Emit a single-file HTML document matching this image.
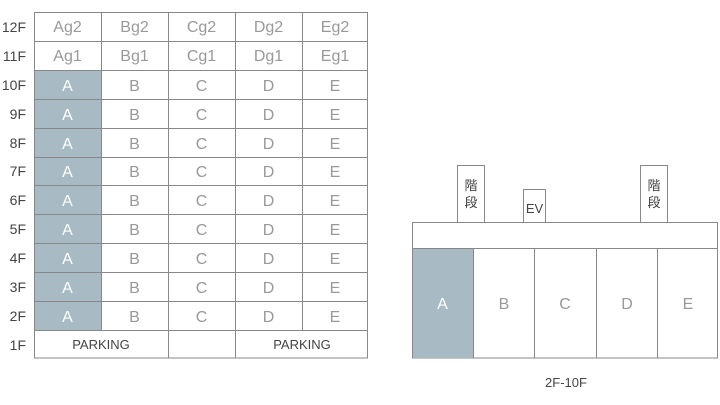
<!DOCTYPE html>
<html><head><meta charset="utf-8"><style>
body{margin:0;background:#fff;width:720px;height:400px;overflow:hidden}
svg text{font-family:"Liberation Sans","Noto Sans CJK JP",sans-serif}
</style></head><body>
<svg width="720" height="400" xmlns="http://www.w3.org/2000/svg">
<rect x="34" y="70" width="67" height="260" fill="#a8bac3"/>
<g stroke="#888" stroke-width="1" fill="none">
<rect x="34.5" y="12.5" width="333" height="345.5"/>
<line x1="34" y1="41.5" x2="368" y2="41.5"/>
<line x1="34" y1="70.5" x2="368" y2="70.5"/>
<line x1="34" y1="99.5" x2="368" y2="99.5"/>
<line x1="34" y1="128.5" x2="368" y2="128.5"/>
<line x1="34" y1="157.5" x2="368" y2="157.5"/>
<line x1="34" y1="185.5" x2="368" y2="185.5"/>
<line x1="34" y1="214.5" x2="368" y2="214.5"/>
<line x1="34" y1="243.5" x2="368" y2="243.5"/>
<line x1="34" y1="272.5" x2="368" y2="272.5"/>
<line x1="34" y1="301.5" x2="368" y2="301.5"/>
<line x1="34" y1="330.5" x2="368" y2="330.5"/>
<line x1="101.5" y1="12" x2="101.5" y2="330"/>
<line x1="168.5" y1="12" x2="168.5" y2="358"/>
<line x1="235.5" y1="12" x2="235.5" y2="358"/>
<line x1="302.5" y1="12" x2="302.5" y2="330"/>
<rect x="412.5" y="222.5" width="305" height="26"/>
<rect x="412.5" y="248.5" width="305" height="109.5"/>
<line x1="473.5" y1="248" x2="473.5" y2="358"/>
<line x1="534.5" y1="248" x2="534.5" y2="358"/>
<line x1="596.5" y1="248" x2="596.5" y2="358"/>
<line x1="657.5" y1="248" x2="657.5" y2="358"/>
<rect x="457.5" y="165.5" width="27" height="57"/>
<rect x="523.5" y="189.5" width="22" height="33"/>
<rect x="640.5" y="165.5" width="27" height="57"/>
</g>
<rect x="413" y="249" width="60" height="109" fill="#a8bac3"/>
<g fill="#444" font-size="14" text-anchor="end">
<text x="26" y="32">12F</text><text x="26" y="61">11F</text><text x="26" y="90">10F</text>
<text x="26" y="119">9F</text><text x="26" y="148">8F</text><text x="26" y="176">7F</text>
<text x="26" y="205">6F</text><text x="26" y="234">5F</text><text x="26" y="263">4F</text>
<text x="26" y="292">3F</text><text x="26" y="321">2F</text><text x="26" y="350">1F</text>
</g>
<g fill="#999" font-size="16" text-anchor="middle">
<text x="67.5" y="32">Ag2</text><text x="134.5" y="32">Bg2</text><text x="201.5" y="32">Cg2</text><text x="268.5" y="32">Dg2</text><text x="335" y="32">Eg2</text>
<text x="67.5" y="61">Ag1</text><text x="134.5" y="61">Bg1</text><text x="201.5" y="61">Cg1</text><text x="268.5" y="61">Dg1</text><text x="335" y="61">Eg1</text>
</g>
<g font-size="16" text-anchor="middle" fill="#999">
<g fill="#fff">
<text x="67.5" y="91">A</text><text x="67.5" y="120">A</text><text x="67.5" y="149">A</text><text x="67.5" y="177">A</text><text x="67.5" y="206">A</text><text x="67.5" y="235">A</text><text x="67.5" y="264">A</text><text x="67.5" y="293">A</text><text x="67.5" y="322">A</text>
</g>
<text x="134.5" y="91">B</text><text x="134.5" y="120">B</text><text x="134.5" y="149">B</text><text x="134.5" y="177">B</text><text x="134.5" y="206">B</text><text x="134.5" y="235">B</text><text x="134.5" y="264">B</text><text x="134.5" y="293">B</text><text x="134.5" y="322">B</text>
<text x="201.5" y="91">C</text><text x="201.5" y="120">C</text><text x="201.5" y="149">C</text><text x="201.5" y="177">C</text><text x="201.5" y="206">C</text><text x="201.5" y="235">C</text><text x="201.5" y="264">C</text><text x="201.5" y="293">C</text><text x="201.5" y="322">C</text>
<text x="268.5" y="91">D</text><text x="268.5" y="120">D</text><text x="268.5" y="149">D</text><text x="268.5" y="177">D</text><text x="268.5" y="206">D</text><text x="268.5" y="235">D</text><text x="268.5" y="264">D</text><text x="268.5" y="293">D</text><text x="268.5" y="322">D</text>
<text x="335" y="91">E</text><text x="335" y="120">E</text><text x="335" y="149">E</text><text x="335" y="177">E</text><text x="335" y="206">E</text><text x="335" y="235">E</text><text x="335" y="264">E</text><text x="335" y="293">E</text><text x="335" y="322">E</text>
<text x="442.5" y="309" fill="#fff">A</text><text x="504" y="309">B</text><text x="565" y="309">C</text><text x="627" y="309">D</text><text x="688" y="309">E</text>
</g>
<g fill="#444" font-size="13" text-anchor="middle">
<text x="101" y="349">PARKING</text><text x="302" y="349">PARKING</text>
<text x="471" y="190">階</text><text x="471" y="207">段</text>
<text x="654" y="190">階</text><text x="654" y="207">段</text>
<text x="534.5" y="213">EV</text>
<text x="566" y="387">2F-10F</text>
</g>
</svg>
</body></html>
